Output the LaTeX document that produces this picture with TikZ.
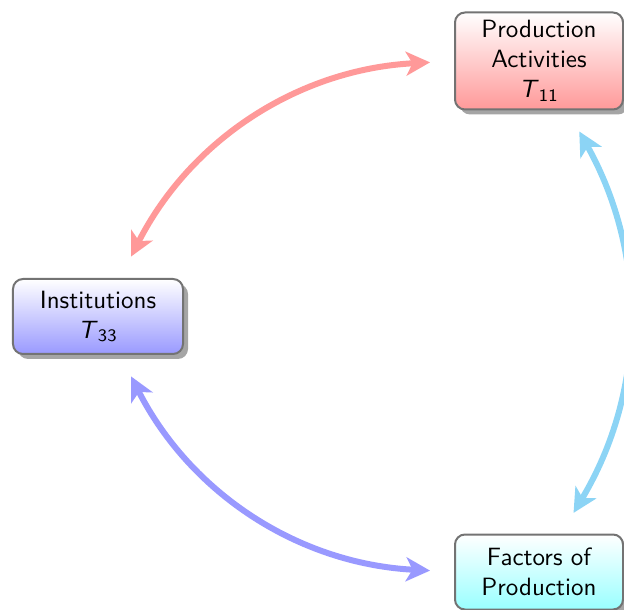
\documentclass[tikz,border=0pt]{standalone}
\usetikzlibrary{arrows.meta,shadows}
\definecolor{skyc}{RGB}{140,212,245}
\begin{document}
\begin{tikzpicture}[x=0.4pt,y=-0.4pt,
  box/.style={draw=black!55, line width=0.8pt, rounded corners=4pt, align=center,
    font=\sffamily\fontsize{10}{12}\selectfont, inner sep=0pt,
    drop shadow={shadow xshift=2pt,shadow yshift=-2pt,fill=black!70,opacity=0.5}},
  link/.style={line width=2.4pt,
    {Stealth[length=9.6pt,width=9.6pt,inset=2.6pt]}-{Stealth[length=9.6pt,width=9.6pt,inset=2.6pt]},
    shorten <=9.6pt, shorten >=9.6pt}]
\useasboundingbox (0,0) rectangle (624,610);
\node[box, minimum width=67.2pt, minimum height=38.8pt, top color=white, bottom color=red!40]
  (prod) at (539,61) {Production\\Activities\\\textit{T}\textsubscript{11}};
\node[box, minimum width=68pt, minimum height=30pt, top color=white, bottom color=blue!40]
  (inst) at (98,316.5) {Institutions\\\textit{T}\textsubscript{33}};
\node[box, minimum width=67.2pt, minimum height=30pt, top color=white, bottom color=cyan!40]
  (fact) at (539,572) {Factors of\\Production};
\draw[link, red!40] (inst) to[bend left=30] (prod);
\draw[link, skyc] (prod) to[bend left=30] (fact);
\draw[link, blue!40] (inst) to[bend right=30] (fact);
\end{tikzpicture}
\end{document}
